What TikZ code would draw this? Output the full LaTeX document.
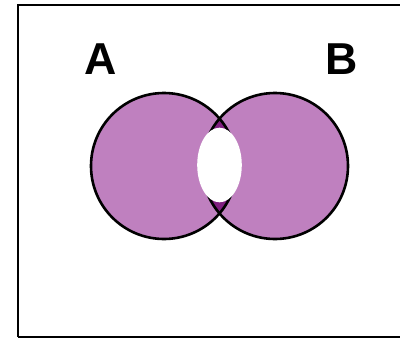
\documentclass[tikz,border=0pt]{standalone}
\usepackage{fontspec}
\setmainfont{Liberation Sans}
\definecolor{setfill}{RGB}{191,128,191}
\definecolor{overlapfill}{RGB}{128,32,128}
\begin{document}
\begin{tikzpicture}[x=1pt,y=-1pt,
  setlabel/.style={font=\fontsize{44.7}{50}\selectfont\bfseries, inner sep=0pt, anchor=center},
  outline/.style={line width=2.6pt, draw=black}]
\useasboundingbox (0,0) rectangle (400,338);
% frame
\draw[line width=2pt] (18,337) -- (18,5) -- (410,5);
\draw[line width=2pt] (18,337) -- (410,337);
% circle centres
\coordinate (ca) at (164,166);
\coordinate (cb) at (275,166);
% fills
\fill[setfill] (ca) circle (73);
\fill[setfill] (cb) circle (73);
\begin{scope}
  \clip (ca) circle (73);
  \fill[overlapfill] (cb) circle (73);
\end{scope}
% outlines
\draw[outline] (ca) circle (73);
\draw[outline] (cb) circle (73);
% white hole
\fill[white] (219.5,165) ellipse (22.3 and 37.3);
% labels
\node[setlabel] (la) at (101,59) {A};
\node[setlabel] (lb) at (341.5,59) {B};
\end{tikzpicture}
\end{document}
